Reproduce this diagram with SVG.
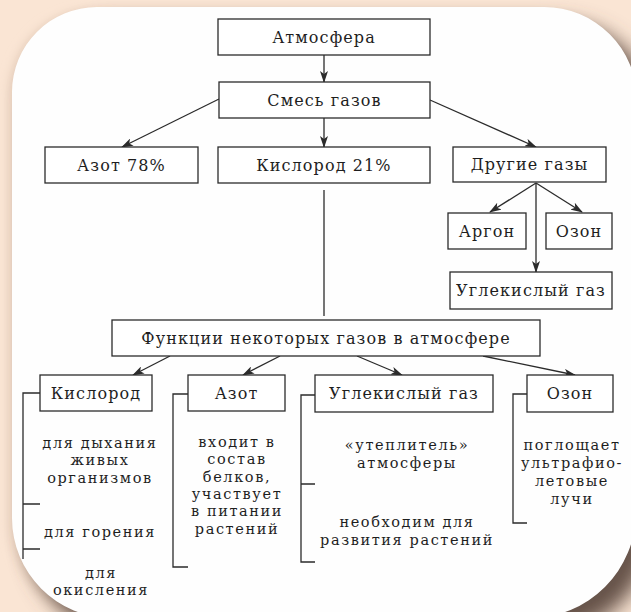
<svg xmlns="http://www.w3.org/2000/svg" width="631" height="612" viewBox="0 0 631 612">
<defs>
<style>
.box{fill:#fff;stroke:#2b2b2b;stroke-width:1.3}
.ln{fill:none;stroke:#2b2b2b;stroke-width:1.3}
.t{font-family:"DejaVu Serif","Liberation Serif",serif;font-size:16px;fill:#1e1e1e;text-anchor:middle;letter-spacing:1.1px}
.b{font-family:"DejaVu Serif","Liberation Serif",serif;font-size:14.5px;fill:#1e1e1e;text-anchor:middle;letter-spacing:1.6px}
</style>
<marker id="ah" viewBox="0 0 12 8" refX="11" refY="4" markerWidth="12" markerHeight="8" markerUnits="userSpaceOnUse" orient="auto">
<path d="M0,0 L12,4 L0,8 L3,4 Z" fill="#2b2b2b"/>
</marker>
<filter id="sh" x="-10%" y="-10%" width="130%" height="130%">
<feGaussianBlur stdDeviation="10"/>
</filter>
<filter id="sl" x="-10%" y="-10%" width="130%" height="130%">
<feGaussianBlur stdDeviation="5"/>
</filter>
</defs>
<rect x="0" y="0" width="631" height="612" fill="#fae5d4"/>
<path d="M 12,92 A 85 85 0 0 1 97,7 L 544,7 A 93 93 0 0 1 637,100 L 636,512 A 106 106 0 0 1 530,618 L 112,618 A 100 100 0 0 1 12,518 Z" fill="#e9d2c0" transform="translate(-4,2)" filter="url(#sl)"/>
<path d="M 12,92 A 85 85 0 0 1 97,7 L 544,7 A 93 93 0 0 1 637,100 L 636,512 A 106 106 0 0 1 530,618 L 112,618 A 100 100 0 0 1 12,518 Z" fill="#66534a" transform="translate(16,16)" filter="url(#sh)"/>
<path d="M 12,92 A 85 85 0 0 1 97,7 L 544,7 A 93 93 0 0 1 637,100 L 636,512 A 106 106 0 0 1 530,618 L 112,618 A 100 100 0 0 1 12,518 Z" fill="#fefefe"/>

<g id="connectors">
<line class="ln" x1="324" y1="55" x2="324" y2="82" marker-end="url(#ah)"/>
<line class="ln" x1="219" y1="99" x2="122" y2="147" marker-end="url(#ah)"/>
<line class="ln" x1="324" y1="118" x2="324" y2="147" marker-end="url(#ah)"/>
<line class="ln" x1="430" y1="100" x2="536" y2="147" marker-end="url(#ah)"/>
<line class="ln" x1="324" y1="190" x2="324" y2="316"/>
<line class="ln" x1="536" y1="183" x2="490" y2="212" marker-end="url(#ah)"/>
<line class="ln" x1="536" y1="183" x2="582" y2="212" marker-end="url(#ah)"/>
<line class="ln" x1="536" y1="183" x2="536" y2="272" marker-end="url(#ah)"/>
<line class="ln" x1="170" y1="356" x2="133" y2="375" marker-end="url(#ah)"/>
<line class="ln" x1="280" y1="356" x2="243" y2="375" marker-end="url(#ah)"/>
<line class="ln" x1="357" y1="356" x2="402" y2="375" marker-end="url(#ah)"/>
<line class="ln" x1="483" y1="356" x2="575" y2="375" marker-end="url(#ah)"/>
<path class="ln" d="M40,393 H23 V559 M23,504 H40 M23,549 H40"/>
<path class="ln" d="M188,394 H173 V567 H188"/>
<path class="ln" d="M315,395 H301 V562 H315 M301,484 H315"/>
<path class="ln" d="M527,394 H513 V523 H527"/>
</g>

<g id="n-atmosfera"><rect class="box" x="218" y="19" width="212" height="36"/><text class="t" x="324" y="42.5">Атмосфера</text></g>
<g id="n-smes"><rect class="box" x="219" y="82" width="211" height="36"/><text class="t" x="324.5" y="105.5">Смесь газов</text></g>
<g id="n-azot78"><rect class="box" x="45" y="147" width="153" height="36"/><text class="t" x="121.5" y="170.5">Азот 78%</text></g>
<g id="n-kislorod21"><rect class="box" x="218" y="147" width="212" height="36"/><text class="t" x="324" y="170.5">Кислород 21%</text></g>
<g id="n-drugie"><rect class="box" x="453" y="147" width="153" height="35"/><text class="t" x="529.5" y="170">Другие газы</text></g>
<g id="n-argon"><rect class="box" x="448" y="213" width="78" height="36"/><text class="t" x="487" y="236.5">Аргон</text></g>
<g id="n-ozon1"><rect class="box" x="546" y="213" width="66" height="36"/><text class="t" x="579" y="236.5">Озон</text></g>
<g id="n-co2"><rect class="box" x="450" y="272" width="162" height="37"/><text class="t" x="531" y="296">Углекислый газ</text></g>
<g id="n-funkcii"><rect class="box" x="112" y="320" width="428" height="36"/><text class="t" x="326" y="343.5">Функции некоторых газов в атмосфере</text></g>

<g id="n-kislorod"><rect class="box" x="40" y="375" width="112" height="36"/><text class="t" x="96" y="398.5">Кислород</text>
<text class="b" x="100" y="448">для дыхания</text><text class="b" x="100" y="465.3">живых</text><text class="b" x="100" y="482.6">организмов</text>
<text class="b" x="100" y="537">для горения</text>
<text class="b" x="101" y="578">для</text><text class="b" x="101" y="595.3">окисления</text></g>

<g id="n-azot"><rect class="box" x="188" y="375" width="97" height="36"/><text class="t" x="236.5" y="398.5">Азот</text>
<text class="b" x="237" y="447">входит в</text><text class="b" x="237" y="464.3">состав</text><text class="b" x="237" y="481.6">белков,</text><text class="b" x="237" y="498.9">участвует</text><text class="b" x="237" y="516.2">в питании</text><text class="b" x="237" y="533.5">растений</text></g>

<g id="n-ugl"><rect class="box" x="315" y="375" width="178" height="37"/><text class="t" x="404" y="399">Углекислый газ</text>
<text class="b" x="407" y="450">«утеплитель»</text><text class="b" x="407" y="467.5">атмосферы</text>
<text class="b" x="407" y="527">необходим для</text><text class="b" x="407" y="545">развития растений</text></g>

<g id="n-ozon"><rect class="box" x="527" y="375" width="86" height="37"/><text class="t" x="570" y="399">Озон</text>
<text class="b" x="572" y="450">поглощает</text><text class="b" x="572" y="468">ультрафио-</text><text class="b" x="572" y="486">летовые</text><text class="b" x="572" y="504">лучи</text></g>
</svg>
